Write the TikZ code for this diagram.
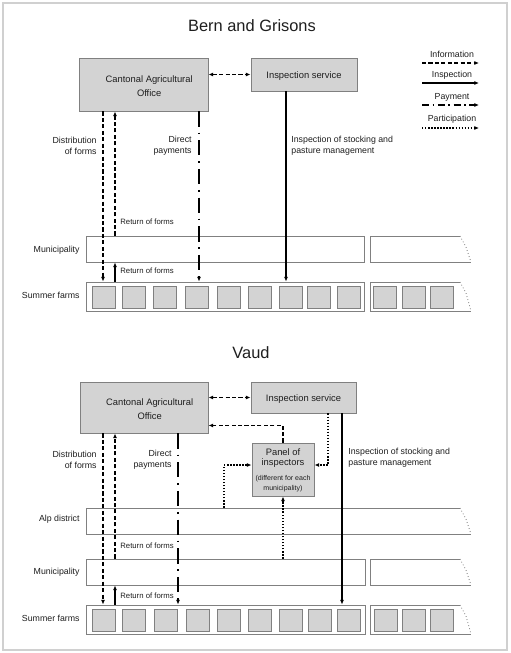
\documentclass[tikz,border=0pt]{standalone}
\usepackage{fontspec}
\setmainfont{Liberation Sans}
\usetikzlibrary{positioning,arrows.meta,fit,calc}

\definecolor{boxgray}{HTML}{D3D3D3}
\definecolor{edgegray}{HTML}{808080}
\definecolor{framegray}{HTML}{D0D0D0}
\definecolor{inkgray}{HTML}{1E1E1E}

\tikzset{
  office/.style={draw=edgegray, fill=boxgray, line width=0.8pt, inner sep=0pt},
  boxtext/.style={align=center, text=inkgray, inner sep=0pt, font=\fontsize{8}{8.5}\selectfont},
  bar/.style={draw=edgegray, fill=white, line width=0.7pt, inner sep=0pt},
  torn/.style={draw=edgegray, line width=0.7pt},
  farm/.style={draw=edgegray, fill=boxgray, line width=0.8pt},
  lbl/.style={font=\fontsize{7.5}{9.5}\selectfont, text=inkgray, inner sep=1pt},
  smalllbl/.style={font=\fontsize{6.6}{8}\selectfont, text=inkgray, inner sep=1pt},
  title/.style={font=\fontsize{14}{16}\selectfont, text=inkgray},
  info/.style={line width=1pt, dash pattern=on 3.5pt off 2pt, ->},
  insp/.style={line width=0.9pt, ->},
  pay/.style={line width=1pt, dash pattern=on 13pt off 5pt on 1.5pt off 5pt, ->},
  part/.style={line width=1.2pt, dash pattern=on 1.2pt off 1.4pt, ->},
}

\begin{document}
\begin{tikzpicture}[x=0.03cm,y=-0.03cm,>={Latex[length=4pt,width=3.4pt]}]
\useasboundingbox (0,0) rectangle (510,653);
\draw[framegray, line width=1.7pt] (3,3) rectangle (507,650);

%% Bern and Grisons
\node[title] (t1) at (252,26) {Bern and Grisons};
\node[office, fit={(79,58) (208,111)}] (cao1) {};
\node[office, fit={(251,58) (357,91)}] (is1) {};
\node[boxtext] (cao1t) at ([xshift=0.17cm,yshift=-0.04cm]cao1.center) {Cantonal Agricultural\\[3.5pt]Office};
\node[boxtext] (is1t) at ([yshift=-0.05cm]is1.center) {Inspection service};

% legend
\node[lbl] (lgi) at (452,54) {Information};
\node[lbl] (lgn) at (452,75) {Inspection};
\node[lbl] (lgp) at (452,97) {Payment};
\node[lbl] (lgr) at (452,119) {Participation};
\draw[info] ($(lgi)+(-30,9)$) -- ($(lgi)+(27,9)$);
\draw[insp] ($(lgn)+(-30,8)$) -- ($(lgn)+(27,8)$);
\draw[pay, dash pattern=on 6pt off 3pt on 1.5pt off 3pt] ($(lgp)+(-30,8)$) -- ($(lgp)+(27,8)$);
\draw[part] ($(lgr)+(-30,9)$) -- ($(lgr)+(27,9)$);

% levels
\node[bar, fit={(86,236) (364,262)}] (mun1) {};
\node[bar, fit={(86,282) (364,311)}] (farms1) {};
\draw[torn] (460,236) -- (370,236) -- (370,262) -- (471,262);
\draw[torn, dotted] (460,236) -- (466,247) -- (471,262);
\draw[torn] (460,282) -- (370,282) -- (370,311) -- (471,311);
\draw[torn, dotted] (460,282) -- (466,293) -- (471,311);
\foreach \x in {92,122,153,185,217,248,279,307,337,373,402,430}
  \draw[farm] (\x,286) rectangle +(23,22);
\node[lbl, anchor=east] (mun1l) at (81,250) {Municipality};
\node[lbl, anchor=east] (farms1l) at (81,295) {Summer farms};

% flows
\coordinate (dist1) at (103,0);
\coordinate (ret1) at (115,0);
\coordinate (pay1) at (199,0);
\coordinate (ins1) at (286,0);
\draw[info, <->] (cao1.east |- is1.west) -- (is1.west);
\draw[info] (cao1.south -| dist1) -- (farms1.north -| dist1);
\draw[info] (mun1.north -| ret1) -- (cao1.south -| ret1);
\draw[info, solid] (farms1.north -| ret1) -- (mun1.south -| ret1);
\draw[pay] (cao1.south -| pay1) -- (farms1.north -| pay1);
\draw[insp] (is1.south -| ins1) -- (farms1.north -| ins1);
\node[lbl, anchor=east, align=right] (dist1l) at (98,146) {Distribution\\of forms};
\node[lbl, anchor=east, align=right] (pay1l) at (193,146) {Direct\\payments};
\node[lbl, anchor=west, align=left] (ins1l) at (290,146) {Inspection of stocking and\\pasture management};
\node[smalllbl, anchor=west] (ret1a) at (119,222) {Return of forms};
\node[smalllbl, anchor=west] (ret1b) at (119,271) {Return of forms};

%% Vaud
\node[title] (t2) at (251,353) {Vaud};
\node[office, fit={(80,382) (208,433)}] (cao2) {};
\node[office, fit={(251,382) (356,413)}] (is2) {};
\node[office, fit={(252,443) (314,496)}] (panel) {};
\node[boxtext] (cao2t) at ([xshift=0.17cm,yshift=-0.04cm]cao2.center) {Cantonal Agricultural\\[3.5pt]Office};
\node[boxtext] (is2t) at ([yshift=-0.05cm]is2.center) {Inspection service};
\node[boxtext] (panelt) at ([yshift=-0.03cm]panel.center) {Panel of\\inspectors\\[4pt]{\fontsize{6}{8.5}\selectfont(different for each}\\{\fontsize{6}{8.5}\selectfont municipality)}};

% levels
\node[bar, fit={(86,508) (460,534)}, draw=none] (alp) {};
\draw[torn] (460,508) -- (86,508) -- (86,534) -- (471,534);
\draw[torn, dotted] (460,508) -- (466,519) -- (471,534);
\node[bar, fit={(86,559) (365,585)}] (mun2) {};
\node[bar, fit={(86,605) (365,634)}] (farms2) {};
\draw[torn] (460,559) -- (370,559) -- (370,585) -- (471,585);
\draw[torn, dotted] (460,559) -- (466,570) -- (471,585);
\draw[torn] (460,605) -- (370,605) -- (370,634) -- (471,634);
\draw[torn, dotted] (460,605) -- (466,616) -- (471,634);
\foreach \x in {92,122,154,186,217,248,279,308,337,374,402,430}
  \draw[farm] (\x,609) rectangle +(23,22);
\node[lbl, anchor=east] (alpl) at (81,519) {Alp district};
\node[lbl, anchor=east] (mun2l) at (81,572) {Municipality};
\node[lbl, anchor=east] (farms2l) at (81,618) {Summer farms};

% flows
\coordinate (dist2) at (103,0);
\coordinate (ret2) at (115,0);
\coordinate (pay2) at (178,0);
\coordinate (ins2) at (342,0);
\coordinate (pk) at (328,0);
\coordinate (pj) at (224,0);
\draw[info, <->] (cao2.east |- is2.west) -- (is2.west);
\draw[info] (panel.north) |- ([yshift=0.24cm]cao2.south east);
\draw[part] (is2.south -| pk) |- ([yshift=0.135cm]panel.east);
\draw[part] (alp.north -| pj) |- ([yshift=0.135cm]panel.west);
\draw[part] (mun2.north -| panel.south) -- (panel.south);
\draw[info] (cao2.south -| dist2) -- (farms2.north -| dist2);
\draw[info] (mun2.north -| ret2) -- (cao2.south -| ret2);
\draw[info, solid] (farms2.north -| ret2) -- (mun2.south -| ret2);
\draw[pay] (cao2.south -| pay2) -- (farms2.north -| pay2);
\draw[insp] (is2.south -| ins2) -- (farms2.north -| ins2);
\node[lbl, anchor=east, align=right] (dist2l) at (98,460) {Distribution\\of forms};
\node[lbl, anchor=east, align=right] (pay2l) at (173,460) {Direct\\payments};
\node[lbl, anchor=west, align=left] (ins2l) at (347,458) {Inspection of stocking and\\pasture management};
\node[smalllbl, anchor=west] (ret2a) at (119,546) {Return of forms};
\node[smalllbl, anchor=west] (ret2b) at (119,596) {Return of forms};
\end{tikzpicture}
\end{document}
